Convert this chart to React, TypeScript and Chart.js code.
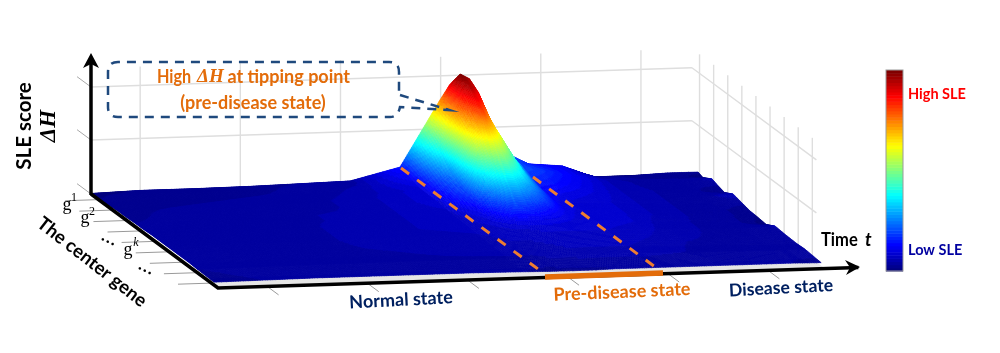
import React, { useEffect, useRef } from "react";
import { Chart, registerables } from "chart.js";

Chart.register(...registerables);

// time positions along the time axis (0..1) and gene positions along the gene axis (0..1)
const timePoints = [0, .08, .17, .26, .34, .427, .509, .55, .575, .59, .6, .615, .63, .66, .69, .72, .776, .827, .89, .95, 1];
const genePoints = [0, .04, .11, .16, .21, .276, .35, .41, .47, .54, .606, .69, .78, .84, .97];

// SLE score per centre gene, one value per time point
const gene01 = [0.5, 2, 2, 2.5, 3.5, 4.7, 17, 58, 83, 97, 102, 100, 96, 56, 26, 16, 13, 1, 1, 2.5, 2.5];
const gene02 = [1.5, 2.5, 2.5, 3, 4, 5, 15, 54, 86, 106, 112, 107, 79, 48, 23, 18, 13, 4, 3, 3, 0.5];
const gene03 = [2, 3, 3, 3.5, 4, 6, 12, 46, 84, 100, 108, 100, 76, 43, 22, 20, 13, 7, 4, 4, 6];
const gene04 = [2.5, 3, 3.5, 4, 4.5, 6.5, 10, 38, 78, 92, 100, 90, 69, 40, 20, 18, 12, 7, 4.5, 4, 3.5];
const gene05 = [3, 3.5, 4, 4, 5, 7, 10, 30, 72, 84, 92, 80, 66, 36, 17, 16, 11, 7, 5, 4, 1.5];
const gene06 = [3, 4, 4, 4.5, 5, 7, 10, 24, 62, 68, 70, 66, 55, 32, 14, 12, 10, 7, 5, 4.5, 6.5];
const gene07 = [3.5, 4, 4.5, 5, 5.5, 7, 9, 20, 42, 49, 52, 50, 44, 27, 13, 10, 9, 7, 5, 4.5, 4];
const gene08 = [3.5, 4, 4.5, 5, 5.5, 7, 8, 14, 28, 33, 36, 35, 31, 22, 12, 10, 9, 7, 5, 4, 2];
const gene09 = [4, 4, 4.5, 5, 6, 7, 8, 11, 18, 21, 22, 21, 19, 15, 11, 9, 9, 7, 5, 4, 1.5];
const gene10 = [4, 4, 5, 5, 6, 7, 7.5, 9, 11, 12, 12, 12, 12, 11, 10, 10, 9, 6, 5, 4, 0.5];
const gene11 = [4, 4.5, 5, 5, 6, 6.5, 7, 7.5, 8, 8, 8.5, 9, 9, 9, 9, 9, 8, 6, 5, 4.5, 5.5];
const gene12 = [4, 4.5, 4.5, 5, 5.5, 6, 6.5, 7, 7, 7.2, 7.5, 7.8, 8, 8, 8, 8, 7, 5.5, 5, 4.5, 4.5];
const gene13 = [4, 4, 4.5, 5, 5, 5.5, 6, 6, 6, 6.2, 6.5, 6.8, 7, 7, 7, 7, 6, 5, 5, 4, 4];
const gene14 = [3.5, 4, 4.5, 4.5, 5, 5, 5, 5, 5.5, 5.5, 5.5, 5.8, 6, 6, 6, 6, 5.5, 5, 4.5, 4, 4.5];
const gene15 = [3, 3.5, 4, 4, 4, 4, 3.5, 3, 3, 3, 3, 3, 3, 3.5, 3.5, 3.5, 3.5, 3.5, 3.5, 3.5, 3];
const geneSeries = [gene01, gene02, gene03, gene04, gene05, gene06, gene07, gene08, gene09, gene10, gene11, gene12, gene13, gene14, gene15];

const scoreGrid = [54, 107];
const scoreTop = 126;
const scoreMax = 112;
const timeTicks = [.081, .246, .411, .576, .741, .906];
const geneTicks = [.06, .171, .282, .393, .504, .615, .726, .837, .948];

// oblique projection of (time, gene, score) into the chart's value space
const project = (t: number, g: number, z: number) => ({
  x: 91 + 607 * t + 127 * g,
  y: 194 - 19.5 * t + 94 * g - z,
});

const jet = (v: number) => {
  const q = Math.min(63, Math.max(0, Math.floor(v * 64))) / 63;
  const c = (o: number) => Math.round(255 * Math.min(1, Math.max(0, 1.5 - Math.abs(4 * q - o))));
  return `rgb(${c(3)},${c(2)},${c(1)})`;
};

const ORANGE = "#E36C0A";
const NAVY = "#1F497D";

const surfacePlugin = {
  id: "surface3d",
  beforeDatasetsDraw(chart: any) {
    const { ctx, scales } = chart;
    const px = (p: { x: number; y: number }) => ({ x: scales.x.getPixelForValue(p.x), y: scales.y.getPixelForValue(p.y) });
    const seg = (a: any, b: any, color: string, w: number) => {
      const A = px(a), B = px(b);
      ctx.strokeStyle = color; ctx.lineWidth = w; ctx.setLineDash([]);
      ctx.beginPath(); ctx.moveTo(A.x, A.y); ctx.lineTo(B.x, B.y); ctx.stroke();
    };
    ctx.save();
    const WALL = "#dedede";
    // back and side walls
    timeTicks.forEach((t) => seg(project(t, 0, 0), project(t, 0, scoreTop), WALL, 1.4));
    geneTicks.forEach((g) => seg(project(.99, g, 0), project(.99, g, scoreTop), WALL, 1.4));
    scoreGrid.forEach((z) => {
      seg(project(0, 0, z), project(.99, 0, z), WALL, 1.4);
      seg(project(.99, 0, z), project(.99, .98, z), WALL, 1.4);
      seg(project(0, -.11, z), project(0, 0, z), "#a8a8a8", 1);
    });
    seg(project(0, -.11, 0), project(0, 0, 0), "#a8a8a8", 1);
    // floor strip
    const f = [project(0, .9, 0), project(1, .9, 0), project(1, .995, 0), project(0, .995, 0)].map(px);
    ctx.fillStyle = "#e6e6e6";
    ctx.beginPath(); f.forEach((p, i) => (i ? ctx.lineTo(p.x, p.y) : ctx.moveTo(p.x, p.y))); ctx.closePath(); ctx.fill();

    // surface, painted from the far corner to the near one
    const metas = geneSeries.map((_, i) => chart.getDatasetMeta(i).data);
    for (let r = 0; r < genePoints.length - 1; r++) {
      for (let c = timePoints.length - 2; c >= 0; c--) {
        const P = [metas[r][c], metas[r][c + 1], metas[r + 1][c + 1], metas[r + 1][c]];
        const Z = [geneSeries[r][c], geneSeries[r][c + 1], geneSeries[r + 1][c + 1], geneSeries[r + 1][c]];
        const ext = Math.max(Math.abs(P[0].x - P[1].x), Math.abs(P[0].y - P[3].y), Math.abs(P[0].y - P[1].y), Math.abs(P[1].y - P[2].y));
        const n = Math.max(2, Math.min(24, Math.ceil(ext / 2.5)));
        const bl = (u: number, v: number) => {
          const w = [(1 - u) * (1 - v), u * (1 - v), u * v, (1 - u) * v];
          return {
            x: w[0] * P[0].x + w[1] * P[1].x + w[2] * P[2].x + w[3] * P[3].x,
            y: w[0] * P[0].y + w[1] * P[1].y + w[2] * P[2].y + w[3] * P[3].y,
            z: w[0] * Z[0] + w[1] * Z[1] + w[2] * Z[2] + w[3] * Z[3],
          };
        };
        for (let j = 0; j < n; j++) {
          for (let i = n - 1; i >= 0; i--) {
            const a = bl(i / n, j / n), b = bl((i + 1) / n, j / n), d = bl((i + 1) / n, (j + 1) / n), e = bl(i / n, (j + 1) / n);
            const col = jet(((a.z + b.z + d.z + e.z) / 4) / scoreMax);
            ctx.fillStyle = col; ctx.strokeStyle = col; ctx.lineWidth = 0.6;
            ctx.beginPath(); ctx.moveTo(a.x, a.y); ctx.lineTo(b.x, b.y); ctx.lineTo(d.x, d.y); ctx.lineTo(e.x, e.y); ctx.closePath();
            ctx.fill(); ctx.stroke();
          }
        }
      }
    }
    ctx.restore();
  },
  afterDatasetsDraw(chart: any) {
    const { ctx, scales } = chart;
    const X = (v: number) => scales.x.getPixelForValue(v);
    const Y = (v: number) => scales.y.getPixelForValue(v);
    const line = (pts: any[], color: string, w: number, dash: number[] = [], cap: CanvasLineCap = "butt") => {
      ctx.strokeStyle = color; ctx.lineWidth = w; ctx.setLineDash(dash); ctx.lineCap = cap; ctx.lineJoin = "miter";
      ctx.beginPath(); pts.forEach((p, i) => (i ? ctx.lineTo(X(p.x), Y(p.y)) : ctx.moveTo(X(p.x), Y(p.y)))); ctx.stroke();
      ctx.setLineDash([]); ctx.lineCap = "butt";
    };
    const text = (s: string, x: number, y: number, font: string, color: string, rot = 0, align: CanvasTextAlign = "center", sx = 1) => {
      ctx.save(); ctx.translate(X(x), Y(y)); ctx.rotate((rot * Math.PI) / 180); ctx.scale(sx, 1);
      ctx.font = font; ctx.fillStyle = color; ctx.textAlign = align; ctx.textBaseline = "middle";
      ctx.fillText(s, 0, 0); ctx.restore();
    };
    const poly = (pts: number[][], color: string) => {
      ctx.fillStyle = color; ctx.beginPath();
      pts.forEach((p, i) => (i ? ctx.lineTo(X(p[0]), Y(p[1])) : ctx.moveTo(X(p[0]), Y(p[1]))));
      ctx.closePath(); ctx.fill();
    };
    ctx.save();
    const TICK = "#9a9a9a";
    geneTicks.forEach((g) => line([project(-.055, g, 0), project(0, g, 0)], TICK, 1));
    timeTicks.forEach((t) => line([project(t, 1, 0), project(t, 1.09, 0)], TICK, 1));

    // axes
    line([{ x: 91, y: 195 }, { x: 91, y: 62 }], "#000", 3.5);
    poly([[91, 53], [99, 68], [91, 64], [83, 68]], "#000");
    line([project(0, 0, 0), project(0, 1, 0), project(1.055, 1, 0)], "#000", 3.5);
    poly([[860, 267], [845, 260], [850, 267.5], [846, 275]], "#000");

    // pre-disease guides
    line([{ x: 401, y: 168 }, { x: 542, y: 272 }], "#ED7D31", 3, [10, 10]);
    line([{ x: 533, y: 177 }, { x: 662, y: 272 }], "#ED7D31", 3, [10, 10]);
    line([{ x: 545, y: 277 }, { x: 663, y: 273 }], ORANGE, 5.5);

    // callout
    ctx.strokeStyle = NAVY; ctx.lineWidth = 2.5; ctx.setLineDash([9, 7]);
    ctx.beginPath();
    ctx.moveTo(X(400), Y(95)); ctx.lineTo(X(449), Y(110)); ctx.lineTo(X(400), Y(107));
    ctx.quadraticCurveTo(X(398), Y(117), X(390), Y(117));
    ctx.lineTo(X(118), Y(117)); ctx.quadraticCurveTo(X(108), Y(117), X(108), Y(107));
    ctx.lineTo(X(108), Y(72)); ctx.quadraticCurveTo(X(108), Y(62), X(118), Y(62));
    ctx.lineTo(X(389), Y(62)); ctx.quadraticCurveTo(X(399), Y(62), X(399), Y(72));
    ctx.lineTo(X(399), Y(95));
    ctx.stroke(); ctx.setLineDash([]);

    const B18 = "bold 18px Lato";
    text("High", 157, 77, B18, ORANGE, 0, "left", .9);
    text("\u0394H", 197, 77, "italic bold 19px 'Liberation Serif'", ORANGE, 0, "left");
    text("at tipping point", 350, 77, B18, ORANGE, 0, "right");
    text("(pre-disease state)", 253, 103, B18, ORANGE);

    // axis titles
    text("SLE score", 24, 126, "bold 20.5px Lato", "#000", -90);
    text("\u0394H", 49, 126, "italic bold 23px 'Liberation Serif'", "#000", -90);
    text("The center gene", 92, 262, "bold 18.6px Lato", "#000", 38);
    text("Normal state", 401, 300, "bold 18px Lato", "#002060", -3);
    text("Pre-disease state", 622, 292, "bold 18px Lato", ORANGE, -2.5);
    text("Disease state", 781, 288, "bold 17.6px Lato", "#002060", -3);
    text("Time", 821, 240, "bold 18px Lato", "#000", 0, "left", .92);
    text("t", 865, 240, "italic bold 18px Lato", "#000", 0, "left");

    // gene labels
    const G = "18px 'Liberation Serif'", S = "12px 'Liberation Serif'";
    text("g", 67, 205, G, "#000"); text("1", 74, 198, S, "#000");
    text("g", 85, 218, G, "#000"); text("2", 92, 212, S, "#000");
    text("\u2026", 109, 239, "bold 16px 'Liberation Serif'", "#000", 25);
    text("g", 128, 250, G, "#000"); text("k", 136, 243, "italic 12px 'Liberation Serif'", "#000");
    text("\u2026", 146, 268, "bold 16px 'Liberation Serif'", "#000", 25);

    // colour bar
    const bx = 886, bw = 17, top = 70, bot = 271;
    for (let i = 0; i < 64; i++) {
      const y0 = bot - ((i + 1) * (bot - top)) / 64, y1 = bot - (i * (bot - top)) / 64;
      ctx.fillStyle = jet((i + .5) / 64);
      ctx.fillRect(X(bx), Y(y0), bw, Y(y1) - Y(y0) + .5);
    }
    ctx.strokeStyle = "#9a9a9a"; ctx.lineWidth = 1; ctx.strokeRect(X(bx), Y(top), bw, bot - top);
    text("High SLE", 908, 94, "bold 14.5px Lato", "#FF0000", 0, "left");
    text("Low SLE", 908, 250, "bold 14.5px Lato", "#0000A0", 0, "left");
    ctx.restore();
  },
};

export default function App() {
  const ref = useRef<HTMLCanvasElement>(null);
  useEffect(() => {
    const chart = new Chart(ref.current as HTMLCanvasElement, {
      type: "scatter",
      data: {
        datasets: geneSeries.map((series, r) => ({
          label: `gene ${r + 1}`,
          data: series.map((z, c) => project(timePoints[c], genePoints[r], z)),
          pointRadius: 0,
          showLine: false,
        })),
      },
      options: {
        animation: false,
        responsive: false,
        layout: { padding: 0 },
        plugins: { legend: { display: false }, tooltip: { enabled: false } },
        scales: {
          x: { type: "linear", min: 0, max: 1000, display: false },
          y: { type: "linear", min: 0, max: 353, reverse: true, display: false },
        },
      },
      plugins: [surfacePlugin],
    } as any);
    return () => chart.destroy();
  }, []);
  return (
    <div style={{ position: "absolute", left: 0, top: 0, width: 1000, height: 353, background: "#fff" }}>
      <canvas ref={ref} width={1000} height={353} style={{ display: "block" }} />
    </div>
  );
}
